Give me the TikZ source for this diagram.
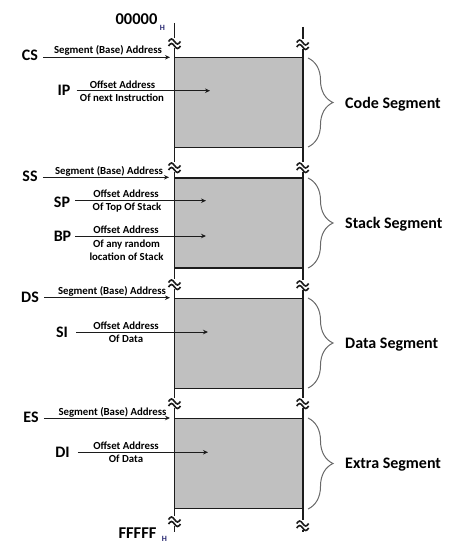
\documentclass[tikz,border=0pt]{standalone}
\usepackage{fontspec}
\setmainfont{Carlito}
\usetikzlibrary{decorations.pathreplacing,arrows.meta}
\definecolor{segfill}{RGB}{192,192,192}
\definecolor{linec}{RGB}{28,28,28}
\definecolor{bracec}{RGB}{105,105,105}
\definecolor{navy}{RGB}{35,35,110}
\begin{document}
\begin{tikzpicture}[x=1pt,y=-1pt,
  seg/.style={draw=linec, line width=1.8pt, fill=segfill, minimum width=128.2pt, minimum height=90pt, inner sep=0pt, anchor=north west, outer sep=0pt},
  vline/.style={draw=linec, line width=1.8pt},
  reg/.style={font=\bfseries\fontsize{16}{17}\selectfont, inner sep=0pt, anchor=base},
  small/.style={font=\bfseries\fontsize{10.8}{12}\selectfont, inner sep=0pt, anchor=base},
  addr/.style={font=\bfseries\fontsize{16.5}{18}\selectfont, inner sep=0pt, anchor=base},
  hsub/.style={font=\bfseries\fontsize{8}{9}\selectfont, text=navy, inner sep=0pt, anchor=base},
  seglabel/.style={font=\bfseries\fontsize{16}{18}\selectfont, inner sep=0pt, anchor=base west},
  ptr/.style={-{Stealth[length=5pt,width=4.5pt]}, line width=0.9pt, draw=linec},
  segbrace/.style={decorate, decoration={brace, amplitude=25pt}, draw=bracec, line width=1pt},
  brk/.pic={\fill[white] (-6,-5) rectangle (6,5);
            \draw[line width=1.6pt, linec] (-6,-1.5) sin (-3,-4) cos (0,-1.5) sin (3,1) cos (6,-1.5);
            \draw[line width=1.6pt, linec] (-6,3) sin (-3,0.5) cos (0,3) sin (3,5.5) cos (6,3);}
]
\useasboundingbox (0,0) rectangle (464,551);

% memory column
\coordinate (lt) at (174.5,23);
\coordinate (lb) at (174.5,532);
\coordinate (rt) at (302.7,27);
\coordinate (rb) at (302.7,532);
\node[seg] (code)  at (174.5,57.5) {};
\node[seg] (stack) at (174.5,178) {};
\node[seg] (data)  at (174.5,298.5) {};
\node[seg] (extra) at (174.5,418.5) {};
\draw[vline] (lt) -- (lb);
\draw[vline] (rt) -- (rb);

% break marks
\foreach \y in {43,167,284,403,521} \pic at (174.5,\y) {brk};
\foreach \y in {44,167,285,403,525} \pic at (302.7,\y) {brk};

% addresses
\node[addr] (top) at (136.5,25) {00000};
\node[hsub] (toph) at (162.5,31) {H};
\node[addr] (bot) at (137.5,538) {FFFFF};
\node[hsub] (both) at (164.5,541.5) {H};

% Code segment
\node[reg] (cs) at (30,60) {CS};
\coordinate (csT) at (170,57.3);
\draw[ptr] ([xshift=5pt]cs.east |- csT) -- (csT);
\node[small] (csl) at (108,54) {Segment (Base) Address};
\node[reg] (ip) at (64,95) {IP};
\coordinate (ipT) at (210,90.7);
\draw[ptr] ([xshift=6pt]ip.east |- ipT) -- (ipT);
\node[small] (ipl1) at (122.5,88) {Offset Address};
\node[small] (ipl2) at (122,101) {Of next Instruction};

% Stack segment
\node[reg] (ss) at (30,181) {SS};
\coordinate (ssT) at (169,177.3);
\draw[ptr] ([xshift=5pt]ss.east |- ssT) -- (ssT);
\node[small] (ssl) at (109,174) {Segment (Base) Address};
\node[reg] (sp) at (62,207) {SP};
\coordinate (spT) at (206,200.7);
\draw[ptr] ([xshift=5pt]sp.east |- spT) -- (spT);
\node[small] (spl1) at (126,197) {Offset Address};
\node[small] (spl2) at (127,210) {Of Top Of Stack};
\node[reg] (bp) at (62.5,241) {BP};
\coordinate (bpT) at (206,236);
\draw[ptr] ([xshift=4pt]bp.east |- bpT) -- (bpT);
\node[small] (bpl1) at (126,233) {Offset Address};
\node[small] (bpl2) at (126.5,247) {Of any random};
\node[small] (bpl3) at (126.5,260) {location of Stack};

% Data segment
\node[reg] (ds) at (30,302) {DS};
\coordinate (dsT) at (170,297.7);
\draw[ptr] ([xshift=5pt]ds.east |- dsT) -- (dsT);
\node[small] (dsl) at (112,294) {Segment (Base) Address};
\node[reg] (si) at (62,337) {SI};
\coordinate (siT) at (208,332);
\draw[ptr] ([xshift=8pt]si.east |- siT) -- (siT);
\node[small] (sil1) at (126,329) {Offset Address};
\node[small] (sil2) at (126,342) {Of Data};

% Extra segment
\node[reg] (es) at (31,422) {ES};
\coordinate (esT) at (170,418);
\draw[ptr] ([xshift=5pt]es.east |- esT) -- (esT);
\node[small] (esl) at (112.5,415) {Segment (Base) Address};
\node[reg] (di) at (62.5,457) {DI};
\coordinate (diT) at (208,452.3);
\draw[ptr] ([xshift=8pt]di.east |- diT) -- (diT);
\node[small] (dil1) at (126,449) {Offset Address};
\node[small] (dil2) at (126,462) {Of Data};

% braces and labels
\draw[segbrace] (308,58) -- (308,147);
\draw[segbrace] (308,178) -- (308,268);
\draw[segbrace] (308,298) -- (308,388);
\draw[segbrace] (308,418) -- (308,509);
\node[seglabel] (codel)  at (345,108) {Code Segment};
\node[seglabel] (stackl) at (345,228) {Stack Segment};
\node[seglabel] (datal)  at (345,348) {Data Segment};
\node[seglabel] (extral) at (345,468) {Extra Segment};
\end{tikzpicture}
\end{document}
